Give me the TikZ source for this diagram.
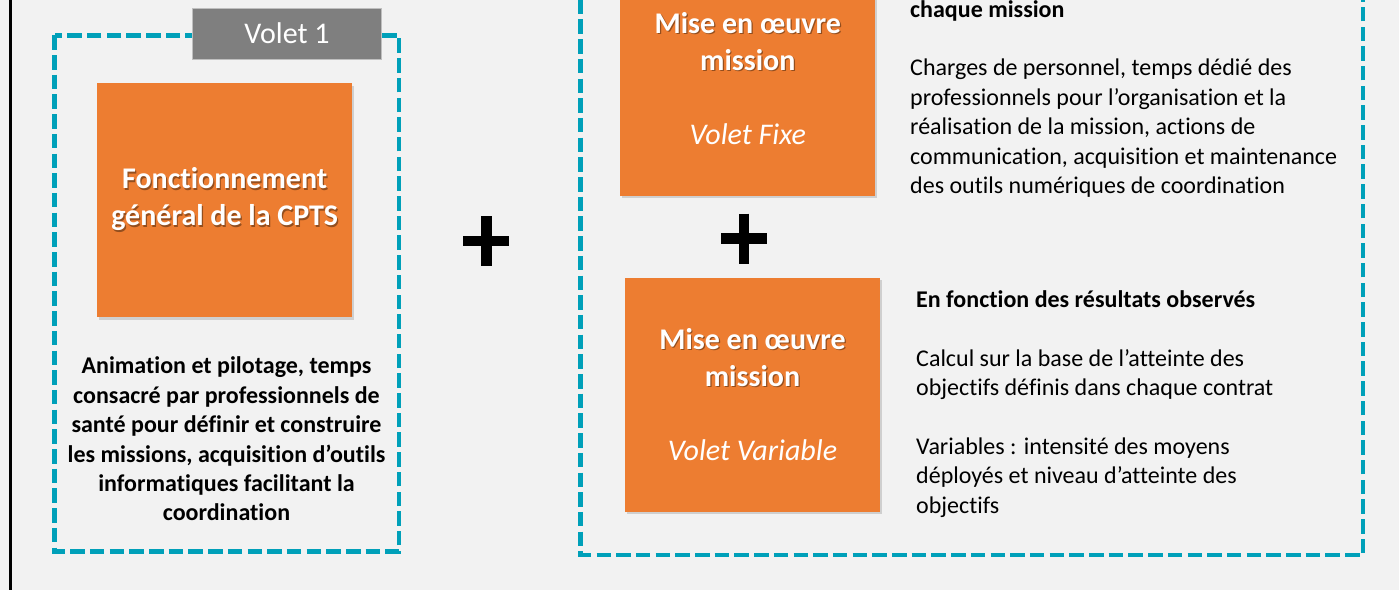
\documentclass[tikz,border=0pt]{standalone}
\usepackage{fontspec}
\setmainfont{Carlito}[RawFeature={-liga;-dlig;-clig;-calt;-rlig}]
\usetikzlibrary{positioning,shadows}
\definecolor{bgGray}{HTML}{F2F2F2}
\definecolor{cptsOrange}{HTML}{ED7D31}
\definecolor{cptsTeal}{RGB}{0,160,185}
\definecolor{voletGray}{HTML}{7F7F7F}
\definecolor{voletEdge}{HTML}{BFBFBF}
\tikzset{
  dashbox/.style={draw=cptsTeal, line width=4.6pt, dash pattern=on 14.5pt off 5.2pt},
  orangebox/.style={fill=cptsOrange, minimum width=255pt, minimum height=234pt,
    inner sep=0pt, text=white, align=center,
    font=\bfseries\fontsize{30}{37}\selectfont,
    drop shadow={shadow xshift=2pt, shadow yshift=-2.5pt, opacity=0.3}},
  bodytext/.style={inner sep=0pt, align=left, font=\fontsize{24}{29.4}\selectfont},
  plusbar/.style={line width=10.5pt, black},
}
% white title text with a soft shadow
\newcommand\shtext[1]{\rlap{\kern1.2pt\raisebox{-1.2pt}{\textcolor{cptsOrange!62!black}{#1}}}#1}

\begin{document}
\begin{tikzpicture}[x=1pt, y=-1pt]

  \fill[bgGray] (0,0) rectangle (1399,590);
  \useasboundingbox (0,0) rectangle (1399,590);
  \draw[line width=2.7pt] (10.3,0) -- (10.3,590);

  %% Volet 1
  \draw[dashbox] (54.5,35.3) rectangle (399,551.5);
  \node[fill=voletGray, draw=voletEdge, line width=1pt, minimum width=189pt, minimum height=51pt,
        text=white, font=\fontsize{30}{36}\selectfont] (volet1) at (287,33.5) {Volet 1};

  \node[orangebox] (fonct) at (224.7,200) {\shtext{Fonctionnement}\\\shtext{général de la CPTS}};
  \node[bodytext, align=center, font=\bfseries\fontsize{24}{29.4}\selectfont] (fonctdesc) at (226.5,439)
    {Animation et pilotage, temps\\consacré par professionnels de\\santé pour définir et construire\\les missions, acquisition d’outils\\informatiques facilitant la\\coordination};

  \coordinate (plusA) at (486.3,241);
  \draw[plusbar] ([xshift=-23pt]plusA) -- ([xshift=23pt]plusA);
  \draw[plusbar] ([yshift=25pt]plusA) -- ([yshift=-25pt]plusA);

  %% Volet 2
  \draw[dashbox] (580.5,-20) rectangle (1363,555);

  \node[orangebox] (fixe) at (747.8,78.5)
    {\shtext{Mise en œuvre}\\\shtext{mission}\\[37pt]{\mdseries\itshape Volet Fixe}};
  \node[orangebox] (variable) at (752.5,394.5)
    {\shtext{Mise en œuvre}\\\shtext{mission}\\[37pt]{\mdseries\itshape Volet Variable}};

  \coordinate (plusB) at (744,238.5);
  \draw[plusbar] ([xshift=-23pt]plusB) -- ([xshift=23pt]plusB);
  \draw[plusbar] ([yshift=25pt]plusB) -- ([yshift=-25pt]plusB);

  \node[bodytext, anchor=north west] (fixedesc) at (910,0)
    {\textbf{chaque mission}\\[29.4pt]Charges de personnel, temps dédié des\\professionnels pour l’organisation et la\\réalisation de la mission, actions de\\communication, acquisition et maintenance\\des outils numériques de coordination};
  \node[bodytext, anchor=north west] (variabledesc) at (916,290.5)
    {\textbf{En fonction des résultats observés}\\[29.4pt]Calcul sur la base de l’atteinte des\\objectifs définis dans chaque contrat\\[29.4pt]Variables : intensité des moyens\\déployés et niveau d’atteinte des\\objectifs};

\end{tikzpicture}
\end{document}
